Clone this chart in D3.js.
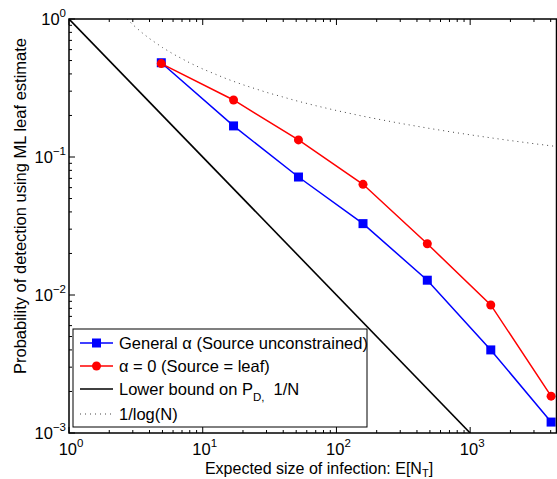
<!DOCTYPE html>
<html>
<head>
<meta charset="utf-8">
<script src="https://cdn.jsdelivr.net/npm/d3@7"></script>
<style>
  body { margin: 0; background: #fff; }
  text { font-family: "Liberation Sans", Arial, sans-serif; fill: #000; }
</style>
</head>
<body>
<svg class="chart"></svg>
<script>
// expected infection size E[N_T] and detection probabilities
var sizes = [4.9, 17, 52, 158, 478, 1426, 4030];
var probGeneral = [0.482, 0.168, 0.0716, 0.0329, 0.0128, 0.0040, 0.0012];
var probLeaf = [0.475, 0.259, 0.133, 0.0634, 0.0235, 0.00847, 0.00185];
// reference curves: 1/N and 1/log(N)
var boundN = [1, 1000];
var logN = [2.72, 3, 3.5, 4, 5, 6, 8, 10, 15, 20, 30, 50, 70, 100, 150, 200, 300, 500, 700, 1000, 1500, 2000, 3000, 4500];
var xTickVals = [1, 10, 100, 1000];
var xTickExp = ["0", "1", "2", "3"];
var yTickVals = [0.001, 0.01, 0.1, 1];
var yTickExp = ["\u22123", "\u22122", "\u22121", "0"];
var legendLabels = ["General \u03b1 (Source unconstrained)", "\u03b1 = 0 (Source = leaf)", "Lower bound on P", "1/log(N)"];

var W = 557, H = 479;
var margin = {top: 19, left: 69, right: 0, bottom: 46};
var width = W - margin.left - margin.right,
    height = H - margin.top - margin.bottom;
var fs = "16.5px", sub = "11.5px";

var svg = d3.select(".chart").attr("width", W).attr("height", H);
var g = svg.append("g").attr("transform", "translate(" + margin.left + "," + margin.top + ")");

var x = d3.scaleLog().domain([1, 4460]).range([0, width]);
var y = d3.scaleLog().domain([0.001, 1]).range([height, 0]);

g.append("clipPath").attr("id", "clip")
    .append("rect").attr("width", width).attr("height", height);

// minor ticks
function minors(lo, hi) {
    var out = [];
    for (var e = lo; e < hi; e++) {
        for (var k = 2; k <= 9; k++) out.push(k * Math.pow(10, e));
    }
    return out;
}
var xMinor = minors(0, 4).filter(function(v) { return v < 4460; });
var yMinor = minors(-3, 0);

var ticks = g.append("g").attr("stroke", "#000").attr("stroke-width", 1);
xTickVals.forEach(function(v) {
    ticks.append("line").attr("x1", x(v)).attr("x2", x(v)).attr("y1", height).attr("y2", height - 6);
    ticks.append("line").attr("x1", x(v)).attr("x2", x(v)).attr("y1", 0).attr("y2", 6);
});
xMinor.forEach(function(v) {
    ticks.append("line").attr("x1", x(v)).attr("x2", x(v)).attr("y1", height).attr("y2", height - 3);
    ticks.append("line").attr("x1", x(v)).attr("x2", x(v)).attr("y1", 0).attr("y2", 3);
});
yTickVals.forEach(function(v) {
    ticks.append("line").attr("x1", 0).attr("x2", 6).attr("y1", y(v)).attr("y2", y(v));
});
yMinor.forEach(function(v) {
    ticks.append("line").attr("x1", 0).attr("x2", 3).attr("y1", y(v)).attr("y2", y(v));
});

// tick labels
xTickVals.forEach(function(v, i) {
    var t = g.append("text").attr("x", x(v) + 2).attr("y", height + 22)
        .attr("text-anchor", "middle").style("font-size", fs);
    t.append("tspan").text("10");
    t.append("tspan").attr("dy", -8).style("font-size", sub).text(xTickExp[i]);
});
yTickVals.forEach(function(v, i) {
    var t = g.append("text").attr("x", -3).attr("y", y(v) + 6)
        .attr("text-anchor", "end").style("font-size", fs);
    t.append("tspan").text("10");
    t.append("tspan").attr("dy", -8).style("font-size", sub).text(yTickExp[i]);
});

var plot = g.append("g").attr("clip-path", "url(#clip)");

var line = d3.line()
    .x(function(d) { return x(d[0]); })
    .y(function(d) { return y(d[1]); });

plot.append("path")
    .attr("d", line(logN.map(function(n) { return [n, 1 / Math.log(n)]; })))
    .attr("fill", "none").attr("stroke", "#444").attr("stroke-width", 1)
    .attr("stroke-dasharray", "1,4");

plot.append("path")
    .attr("d", line(boundN.map(function(n) { return [n, 1 / n]; })))
    .attr("fill", "none").attr("stroke", "#000").attr("stroke-width", 1.6);

var general = sizes.map(function(n, i) { return [n, probGeneral[i]]; });
var leaf = sizes.map(function(n, i) { return [n, probLeaf[i]]; });

g.append("path").attr("d", line(general))
    .attr("fill", "none").attr("stroke", "#0000ff").attr("stroke-width", 1.5);
g.selectAll(".sq").data(general).enter().append("rect")
    .attr("x", function(d) { return x(d[0]) - 4.5; })
    .attr("y", function(d) { return y(d[1]) - 4.5; })
    .attr("width", 9).attr("height", 9).attr("fill", "#0000ff");

g.append("path").attr("d", line(leaf))
    .attr("fill", "none").attr("stroke", "#ff0000").attr("stroke-width", 1.5);
g.selectAll(".dot").data(leaf).enter().append("circle")
    .attr("cx", function(d) { return x(d[0]); })
    .attr("cy", function(d) { return y(d[1]); })
    .attr("r", 4.5).attr("fill", "#ff0000");

// axes box
g.append("rect").attr("x", 0).attr("y", 0).attr("width", width - 0.5).attr("height", height)
    .attr("fill", "none").attr("stroke", "#000").attr("stroke-width", 1.5);

// legend
var leg = g.append("g").attr("transform", "translate(4," + 310 + ")");
leg.append("rect").attr("width", 294).attr("height", 98)
    .attr("fill", "#fff").attr("stroke", "#000").attr("stroke-width", 1);
var rowY = [14, 37, 60, 85];
var rows = leg.selectAll(".row").data(legendLabels).enter().append("g")
    .attr("transform", function(d, i) { return "translate(0," + rowY[i] + ")"; });
rows.append("line").attr("x1", 7).attr("x2", 40).attr("y1", 0).attr("y2", 0)
    .attr("stroke", function(d, i) { return ["#0000ff", "#ff0000", "#000", "#444"][i]; })
    .attr("stroke-width", function(d, i) { return i == 3 ? 1 : 1.5; })
    .attr("stroke-dasharray", function(d, i) { return i == 3 ? "1,4" : null; });
leg.append("rect").attr("x", 19).attr("y", rowY[0] - 4.5).attr("width", 9).attr("height", 9).attr("fill", "#0000ff");
leg.append("circle").attr("cx", 23.5).attr("cy", rowY[1]).attr("r", 4.5).attr("fill", "#ff0000");
rows.append("text").attr("x", 46).attr("y", 6).style("font-size", fs)
    .each(function(d, i) {
        var t = d3.select(this);
        t.append("tspan").text(d);
        if (i == 2) {
            t.append("tspan").attr("dy", 6).style("font-size", sub).text("D,");
            t.append("tspan").attr("dy", -6).text("\u00a0\u00a01/N");
        }
    });

// axis titles
svg.append("text").attr("x", margin.left + width / 2 + 6).attr("y", 474)
    .attr("text-anchor", "middle").style("font-size", "16px")
    .call(function(t) {
        t.append("tspan").text("Expected size of infection: E[N");
        t.append("tspan").attr("dy", 3).style("font-size", "11px").text("T");
        t.append("tspan").attr("dy", -3).text("]");
    });
svg.append("text")
    .attr("transform", "translate(26,206) rotate(-90)")
    .attr("text-anchor", "middle").style("font-size", fs)
    .text("Probability of detection using ML leaf estimate");
</script>
</body>
</html>
